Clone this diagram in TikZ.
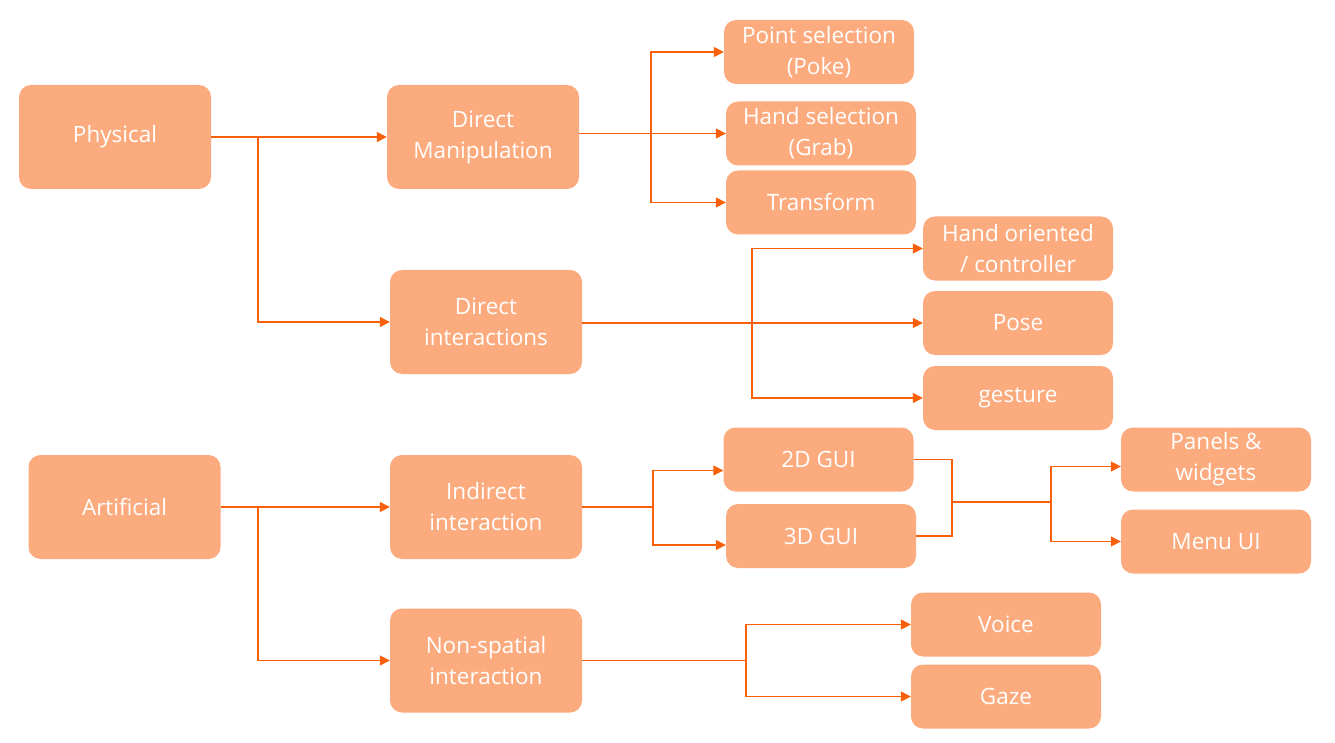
\documentclass[tikz,border=0pt]{standalone}
\usepackage{fontspec}
\setmainfont{Open Sans}
\usepackage{tikz}
\usetikzlibrary{arrows.meta}

\definecolor{boxfill}{RGB}{252,171,126}
\definecolor{linkcol}{RGB}{250,95,10}

\begin{document}
\begin{tikzpicture}[x=1pt, y=-1pt,
        box/.style={rectangle, rounded corners=12pt, fill=boxfill, text=white,
            align=center, inner sep=0pt, minimum width=190pt, minimum height=64pt,
            font=\fontsize{22.5}{31}\selectfont},
        bigbox/.style={box, minimum width=192pt, minimum height=104pt},
        link/.style={draw=linkcol, line width=1.5pt},
        arrow/.style={link, -{Triangle[length=10pt, width=10pt]}}]
        \useasboundingbox (0,0) rectangle (1335,743);

        % Draw the two roots
        \node[bigbox] (phys) at (115,137) {Physical};
        \node[bigbox] (art) at (124.5,507) {Artificial};
        % Draw the second level
        \node[bigbox] (dm) at (483,137) {Direct\\Manipulation};
        \node[bigbox] (di) at (486,322) {Direct\\interactions};
        \node[bigbox] (ind) at (486,507) {Indirect\\interaction};
        \node[bigbox] (non) at (486,660.5) {Non-spatial\\interaction};
        % Draw the leaves of direct manipulation
        \node[box] (poke) at (819,52) {Point selection\\(Poke)};
        \node[box] (grab) at (821,133.5) {Hand selection\\(Grab)};
        \node[box] (trans) at (821,202.5) {Transform};
        % Draw the leaves of direct interactions
        \node[box] (hand) at (1018,248.5) {Hand oriented\\/ controller};
        \node[box] (pose) at (1018,323) {Pose};
        \node[box] (gest) at (1018,398) {gesture};
        % Draw the GUI boxes
        \node[box] (gui2) at (818.5,459.5) {2D GUI};
        \node[box] (gui3) at (821,536) {3D GUI};
        \node[box] (pan) at (1216,459.5) {Panels \&\\widgets};
        \node[box] (menu) at (1216,541.5) {Menu UI};
        % Draw the non-spatial leaves
        \node[box] (voice) at (1006,624.5) {Voice};
        \node[box] (gaze) at (1006,696.5) {Gaze};

        % Branch points
        \coordinate (j1) at (258,137);
        \coordinate (j2) at (651,133.5);
        \coordinate (j3) at (752,323);
        \coordinate (j4) at (258,507);
        \coordinate (j5) at (653,507);
        \coordinate (m1) at (952,502);
        \coordinate (j6) at (1051,502);
        \coordinate (j7) at (746,660.5);

        % Physical branch
        \draw[arrow] (phys.east) -- (dm.west);
        \draw[arrow] (j1) |- (di.west);
        \draw[arrow] (dm.east |- grab.west) -- (grab.west);
        \draw[arrow] (j2) |- (poke.west);
        \draw[arrow] (j2) |- (trans.west);
        \draw[arrow] (di.east |- pose.west) -- (pose.west);
        \draw[arrow] (j3) |- (hand.west);
        \draw[arrow] (j3) |- (gest.west);

        % Artificial branch
        \draw[arrow] (art.east) -- (ind.west);
        \draw[arrow] (j4) |- (non.west);
        \draw[link] (ind.east) -- (j5);
        \draw[arrow] (j5) |- ([yshift=-11pt]gui2.west);
        \draw[arrow] (j5) |- ([yshift=-9pt]gui3.west);
        \draw[link] (gui2.east) -| (m1) |- (gui3.east);
        \draw[link] (m1) -- (j6);
        \draw[arrow] (j6) |- ([yshift=-7pt]pan.west);
        \draw[arrow] (j6) |- (menu.west);
        \draw[link] (non.east) -- (j7);
        \draw[arrow] (j7) |- (voice.west);
        \draw[arrow] (j7) |- (gaze.west);
    \end{tikzpicture}
\end{document}
